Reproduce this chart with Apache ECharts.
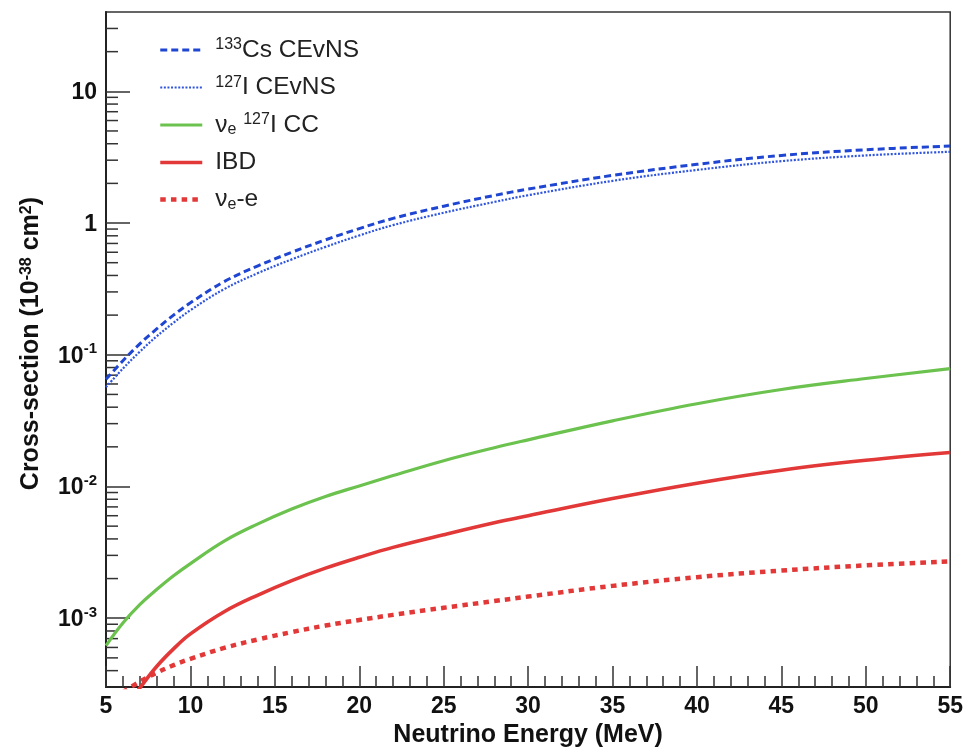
<!DOCTYPE html>
<html>
<head>
<meta charset="utf-8">
<script src="https://cdn.jsdelivr.net/npm/echarts@6/dist/echarts.min.js"></script>
<style>
html,body{margin:0;padding:0;background:#fff;}
#chart{width:966px;height:753px;}
</style>
</head>
<body>
<div id="chart"></div>
<script>
// Neutrino energy grid (MeV)
const energy = [5, 6, 7, 8, 9, 10, 12, 14, 16, 18, 20, 22, 25, 28, 30, 35, 40, 45, 50, 55];
// Cross-sections (10^-38 cm^2)
const csCEvNS = [0.0652, 0.090, 0.121, 0.157, 0.200, 0.248, 0.359, 0.473, 0.600, 0.745, 0.908, 1.084, 1.343, 1.62, 1.81, 2.30, 2.79, 3.26, 3.60, 3.84];
const iCEvNS  = [0.0568, 0.0785, 0.1054, 0.138, 0.175, 0.218, 0.315, 0.417, 0.530, 0.659, 0.805, 0.964, 1.197, 1.445, 1.626, 2.09, 2.53, 2.95, 3.26, 3.475];
const iCC     = [6.2e-4, 9.2e-4, 1.27e-3, 1.65e-3, 2.1e-3, 2.6e-3, 3.85e-3, 5.2e-3, 6.75e-3, 8.4e-3, 1.01e-2, 1.21e-2, 1.57e-2, 1.97e-2, 2.26e-2, 3.15e-2, 4.25e-2, 5.45e-2, 6.6e-2, 7.85e-2];
const ibd     = [null, 2.0e-4, 2.95e-4, 4.3e-4, 5.85e-4, 7.6e-4, 1.12e-3, 1.5e-3, 1.93e-3, 2.4e-3, 2.9e-3, 3.45e-3, 4.3e-3, 5.3e-3, 6.0e-3, 8.1e-3, 1.06e-2, 1.33e-2, 1.58e-2, 1.81e-2];
const nueE    = [null, 2.75e-4, 3.3e-4, 3.85e-4, 4.4e-4, 4.92e-4, 5.95e-4, 6.9e-4, 7.85e-4, 8.8e-4, 9.7e-4, 1.06e-3, 1.2e-3, 1.35e-3, 1.46e-3, 1.76e-3, 2.05e-3, 2.3e-3, 2.52e-3, 2.7e-3];

const seriesNames = ['133Cs CEvNS', '127I CEvNS', 've 127I CC', 'IBD', 've-e'];
const legendLabels = {
  '133Cs CEvNS': '{sup|133}{t|Cs CEvNS}',
  '127I CEvNS': '{sup|127}{t|I CEvNS}',
  've 127I CC': '{t|ν}{sub|e}{t| }{sup|127}{t|I CC}',
  'IBD': '{t|IBD}',
  've-e': '{t|ν}{sub|e}{t|-e}'
};

// Y axis minor tick multipliers and decades (2..9 x 10^k)
const minorMultipliers = [2, 3, 4, 5, 6, 7, 8, 9];
const minorDecades = [1e-4, 1e-3, 1e-2, 1e-1, 1, 10];
const yMin = 3e-4, yMax = 40;
const xMin = 5, xMax = 55;

const minorTickVals = [];
minorDecades.forEach(d => minorMultipliers.forEach(m => {
  const v = +(m * d).toPrecision(3);
  if (v > yMin && v < yMax) minorTickVals.push(v);
}));

function pairs(arr) { return energy.map((e, i) => [e, arr[i]]); }

const chart = echarts.init(document.getElementById('chart'));
const font = 'Liberation Sans, Arial, Helvetica, sans-serif';

const option = {
  backgroundColor: '#ffffff',
  animation: false,
  grid: { left: 106, right: 12, top: 12, bottom: 61, show: true, borderColor: '#333', borderWidth: 1.5, backgroundColor: 'transparent' },
  legend: {
    data: seriesNames,
    orient: 'vertical',
    left: 153,
    top: 32,
    itemWidth: 42,
    itemHeight: 14,
    itemGap: 12,
    formatter: n => legendLabels[n],
    itemStyle: { opacity: 0 },
    lineStyle: { width: 'inherit' },
    textStyle: {
      fontFamily: font,
      color: '#222',
      padding: [0, 0, 0, 8],
      rich: {
        t: { fontSize: 24.5, fontFamily: font, color: '#222', lineHeight: 26, verticalAlign: 'middle' },
        sup: { fontSize: 16, fontFamily: font, color: '#222', lineHeight: 10, verticalAlign: 'top' },
        sub: { fontSize: 16, fontFamily: font, color: '#222', lineHeight: 9, verticalAlign: 'bottom' }
      }
    }
  },
  xAxis: {
    type: 'value',
    min: xMin, max: xMax, interval: 5,
    name: 'Neutrino Energy (MeV)',
    nameLocation: 'middle',
    nameGap: 35,
    nameTextStyle: { fontFamily: font, fontWeight: 'bold', fontSize: 25, color: '#111' },
    axisLine: { lineStyle: { color: '#222', width: 2 } },
    axisTick: { inside: true, length: 21, lineStyle: { color: '#333', width: 1.5 } },
    minorTick: { show: true, splitNumber: 5, length: 11, lineStyle: { color: '#333', width: 1.5 } },
    axisLabel: { fontFamily: font, fontWeight: 'bold', fontSize: 23, color: '#111', margin: 8 },
    splitLine: { show: false }
  },
  yAxis: {
    type: 'log',
    logBase: 10,
    min: yMin, max: yMax,
    name: 'Cross-section (10{s|-38} cm{s|2})',
    nameLocation: 'middle',
    nameGap: 62,
    nameRotate: 90,
    nameTextStyle: {
      fontFamily: font, fontWeight: 'bold', fontSize: 25, color: '#111', padding: [0, 0, 0, 12],
      rich: {
        s: { fontFamily: font, fontWeight: 'bold', fontSize: 16, color: '#111', verticalAlign: 'top', lineHeight: 10 }
      }
    },
    axisLine: { lineStyle: { color: '#222', width: 2 } },
    axisTick: { inside: true, length: 24, lineStyle: { color: '#333', width: 1.5 } },
    axisLabel: {
      margin: 9,
      showMinLabel: false,
      showMaxLabel: false,
      fontFamily: font, fontWeight: 'bold', fontSize: 23, color: '#111',
      formatter: v => {
        const k = Math.round(Math.log10(v));
        if (Math.abs(Math.log10(v) - k) > 1e-6) return '';
        if (k >= 0) return '{b|' + String(Math.pow(10, k)) + '}';
        return '{b|10}{sup|' + k + '}';
      },
      rich: {
        b: { fontFamily: font, fontWeight: 'bold', fontSize: 23, color: '#111', lineHeight: 26, verticalAlign: 'bottom' },
        sup: { fontFamily: font, fontWeight: 'bold', fontSize: 15, color: '#111', lineHeight: 14, verticalAlign: 'top' }
      }
    },
    splitLine: { show: false }
  },
  series: [
    { name: seriesNames[0], type: 'line', data: pairs(csCEvNS), smooth: 0.4, symbol: 'none', clip: true,
      lineStyle: { color: '#1f45d3', width: 3, type: [7, 4] }, itemStyle: { color: '#1f45d3' } },
    { name: seriesNames[1], type: 'line', data: pairs(iCEvNS), smooth: 0.4, symbol: 'none', clip: true,
      lineStyle: { color: '#2f55dd', width: 2.2, type: [2, 1.6] }, itemStyle: { color: '#2f55dd' } },
    { name: seriesNames[2], type: 'line', data: pairs(iCC), smooth: 0.4, symbol: 'none', clip: true,
      lineStyle: { color: '#6cc24e', width: 3.2 }, itemStyle: { color: '#6cc24e' } },
    { name: seriesNames[3], type: 'line', data: pairs(ibd), smooth: 0.4, symbol: 'none', clip: true,
      lineStyle: { color: '#e23838', width: 3.6 }, itemStyle: { color: '#e23838' } },
    { name: seriesNames[4], type: 'line', data: pairs(nueE), smooth: 0.4, symbol: 'none', clip: true,
      lineStyle: { color: '#e23838', width: 4.5, type: [5.5, 5.2] }, itemStyle: { color: '#e23838' } },
    {
      name: 'yMinorTicks', type: 'custom', silent: true, clip: false,
      data: minorTickVals.map(v => [xMin, v]),
      renderItem: (params, api) => {
        const p = api.coord([api.value(0), api.value(1)]);
        return { type: 'line', shape: { x1: p[0], y1: p[1], x2: p[0] + 12, y2: p[1] },
                 style: { stroke: '#333', lineWidth: 1.5 } };
      },
      z: 1
    }
  ]
};
chart.setOption(option);
</script>
</body>
</html>
